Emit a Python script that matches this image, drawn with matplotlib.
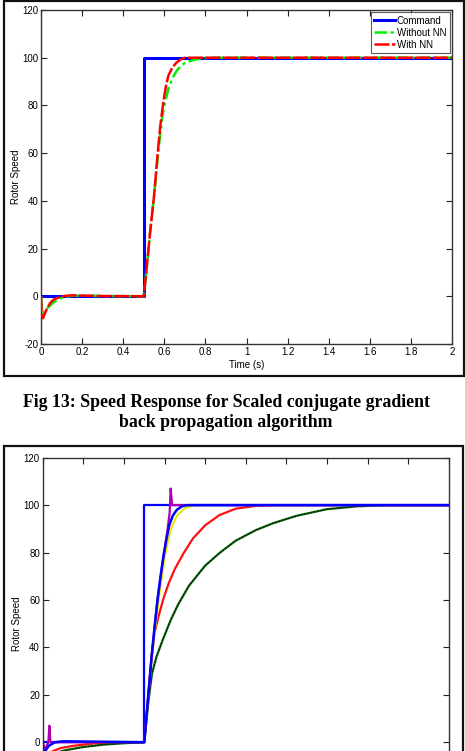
import matplotlib
matplotlib.use("Agg")
import matplotlib.pyplot as plt
from matplotlib.patches import Rectangle

W, H = 465, 751

# ---------------- Data: top chart (Fig 13) ----------------
t_cmd = [0, 0.5, 0.5, 2]
v_cmd = [0, 0, 100, 100]

t_wo = [0, 0.005, 0.01, 0.02, 0.03, 0.045, 0.06, 0.08, 0.1, 0.12, 0.15, 0.2, 0.3,
        0.5, 0.51, 0.52, 0.53, 0.54, 0.55, 0.56, 0.57, 0.58, 0.59, 0.6, 0.62,
        0.64, 0.66, 0.68, 0.7, 0.74, 0.78, 0.82, 2]
v_wo = [0, -6, -7, -6, -5, -3.8, -2.6, -1.5, -0.7, -0.2, 0.2, 0.3, 0.1,
        0, 8, 17, 26, 34, 42, 51, 60, 68, 75, 80, 87,
        91.5, 94.5, 96.5, 97.8, 99, 99.7, 100, 100]

t_nn = [0, 0.004, 0.01, 0.02, 0.03, 0.045, 0.06, 0.08, 0.1, 0.12, 0.15, 0.2, 0.3,
        0.5, 0.51, 0.52, 0.53, 0.54, 0.55, 0.56, 0.57, 0.58, 0.59, 0.6, 0.61,
        0.62, 0.64, 0.66, 0.68, 0.7, 2]
v_nn = [0, -8, -9.2, -7, -5, -2.8, -1.5, -0.7, -0.2, 0.2, 0.4, 0.3, 0.1,
        0, 8, 17, 26, 34, 42, 52, 62, 71, 78, 84, 89,
        92.5, 96, 98, 99.3, 100, 100]

# ---------------- Data: bottom chart ----------------
t_cmd2 = [0, 0.5, 0.5, 2]
v_cmd2 = [0, 0, 100, 100]

t_fast = [0, 0.003, 0.012, 0.03, 0.06, 0.1, 0.3, 0.5, 0.51, 0.52, 0.536, 0.55,
          0.565, 0.58, 0.594, 0.61, 0.623, 0.64, 0.66, 0.685, 0.71, 2]
v_fast = [0, -10, -3.7, -1.5, 0, 0.4, 0.2, 0, 10, 20, 36, 48,
          60, 70, 78.3, 86, 91.5, 95.5, 98, 99.5, 100, 100]

t_yel = [0.5, 0.52, 0.536, 0.55, 0.565, 0.58, 0.6, 0.63, 0.66, 0.7, 0.75, 2]
v_yel = [0, 19, 34, 45, 56, 66, 78, 89.5, 95.5, 98.7, 100, 100]

t_mag = [0, 0.01, 0.028, 0.033, 0.038, 0.05, 0.5, 0.52, 0.536, 0.55, 0.565,
         0.594, 0.615, 0.625, 0.63, 0.637, 0.645, 0.7, 2]
v_mag = [0, -3, 0, 7, 0, 0, 0, 20, 36, 48, 60,
         78, 90, 97, 107, 100, 100, 100, 100]

t_red = [0, 0.005, 0.03, 0.085, 0.15, 0.25, 0.35, 0.5, 0.52, 0.536, 0.55, 0.57,
         0.594, 0.62, 0.65, 0.692, 0.74, 0.8, 0.87, 0.95, 1.05, 1.15, 2]
v_red = [0, -8, -4.5, -2.5, -1.5, -0.5, -0.1, 0, 20, 36, 46, 53,
         60.5, 67, 73, 79.5, 86, 91.5, 95.8, 98.5, 99.7, 100, 100]

t_grn = [0, 0.005, 0.06, 0.115, 0.2, 0.3, 0.4, 0.5, 0.52, 0.538, 0.56, 0.59,
         0.63, 0.666, 0.72, 0.8, 0.873, 0.95, 1.05, 1.135, 1.25, 1.4, 1.55, 1.7, 2]
v_grn = [0, -8, -4.5, -3.3, -2, -1, -0.4, 0, 17, 29, 36, 43,
         51.5, 58, 66, 74.5, 80, 85, 89.5, 92.4, 95.5, 98.3, 99.5, 100, 100]

x_ticks = [0, 0.2, 0.4, 0.6, 0.8, 1, 1.2, 1.4, 1.6, 1.8, 2]
x_ticklabels = ["0", "0.2", "0.4", "0.6", "0.8", "1", "1.2", "1.4", "1.6", "1.8", "2"]
y_ticks = [-20, 0, 20, 40, 60, 80, 100, 120]
y_ticklabels = ["-20", "0", "20", "40", "60", "80", "100", "120"]

caption = "Fig 13: Speed Response for Scaled conjugate gradient\nback propagation algorithm"

plt.rcParams['font.family'] = ['Liberation Sans', 'DejaVu Sans']

fig = plt.figure(figsize=(W / 100, H / 100), dpi=100)


def fx(px):
    return px / W


def fy(py):
    return (H - py) / H


def style_axes(ax):
    ax.set_xlim(0, 2)
    ax.set_ylim(-20, 120)
    ax.set_xticks(x_ticks)
    ax.set_xticklabels(x_ticklabels)
    ax.set_yticks(y_ticks)
    ax.set_yticklabels(y_ticklabels)
    ax.tick_params(direction='in', length=4, width=0.8, top=True, right=True,
                   labelsize=7, pad=2, colors='#222222', labelcolor='black')
    for s in ax.spines.values():
        s.set_linewidth(1.0)
        s.set_color('#333333')
    ax.set_ylabel("Rotor Speed", fontsize=7)


# ---- top axes ----
ax1 = fig.add_axes([fx(41), fy(344), fx(452) - fx(41), fy(10) - fy(344)])
style_axes(ax1)
ax1.yaxis.set_label_coords(-0.049, 0.5)
ax1.plot(t_cmd, v_cmd, color='#0000ff', lw=2.2, label='Command', zorder=2)
ax1.plot(t_wo, v_wo, color='#00ee00', lw=1.8, ls=(0, (5, 1.5, 1.2, 1.5)), label='Without NN', zorder=3)
ax1.plot(t_nn, v_nn, color='#ff0000', lw=1.8, ls=(0, (6, 1)), label='With NN', zorder=4)
ax1.set_xlabel("Time (s)", fontsize=7, labelpad=2)
leg = ax1.legend(loc='upper right', fontsize=7, frameon=True, fancybox=False,
                 borderpad=0.35, labelspacing=0.2, handlelength=2.1, handletextpad=0.2,
                 borderaxespad=0.25)
leg.get_frame().set_edgecolor('#333333')
leg.get_frame().set_linewidth(0.8)

# ---- bottom axes (lower part falls outside the picture, as in the reference) ----
ax2 = fig.add_axes([fx(42.7), fy(789.7), fx(449) - fx(42.7), fy(457.7) - fy(789.7)])
style_axes(ax2)
ax2.tick_params(labelbottom=False)
for lab in ax2.get_yticklabels():
    if lab.get_text() == "-20":
        lab.set_visible(False)
ax2.yaxis.set_label_coords(-0.051, 0.5)
ax2.plot(t_cmd2, v_cmd2, color='#0000ff', lw=1.6, zorder=2)
ax2.plot(t_red, v_red, color='#ff1010', lw=1.6, zorder=3)
ax2.plot(t_grn, v_grn, color='#0a620a', lw=1.6, zorder=3)
ax2.plot(t_grn, v_grn, color='#000000', lw=0.6, ls=(0, (2, 2)), zorder=3.1)
ax2.plot(t_yel, v_yel, color='#e6e600', lw=1.4, zorder=4)
ax2.plot(t_mag, v_mag, color='#b000b0', lw=1.6, zorder=4.5)
ax2.plot(t_fast, v_fast, color='#0000ff', lw=1.8, zorder=5)

# ---- outer boxes ----
fig.patches.append(Rectangle((fx(3.5), fy(376)), fx(463.5) - fx(3.5), fy(1) - fy(376),
                             transform=fig.transFigure, fill=False, lw=1.6,
                             edgecolor='#111111', clip_on=False))
fig.patches.append(Rectangle((fx(3.5), fy(800)), fx(463) - fx(3.5), fy(445.7) - fy(800),
                             transform=fig.transFigure, fill=False, lw=1.6,
                             edgecolor='#111111', clip_on=False))

# ---- caption ----
fig.text(fx(226), fy(412.5), caption, ha='center', va='center', fontsize=12.8,
         fontweight='bold', family=['Liberation Serif', 'DejaVu Serif'],
         linespacing=1.3)

fig.savefig("out.png", dpi=100)
